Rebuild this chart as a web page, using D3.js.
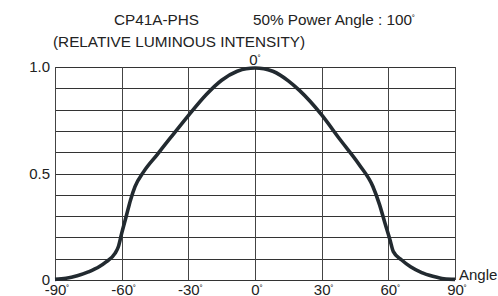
<!DOCTYPE html>
<html>
<head>
<meta charset="utf-8">
<script src="https://cdn.jsdelivr.net/npm/d3@7"></script>
<style>
  html, body { margin: 0; padding: 0; background: #fff; }
  svg { display: block; font-family: "Liberation Sans", Arial, sans-serif; }
</style>
</head>
<body>
<svg id="chart" width="498" height="296"></svg>
<script>
// relative luminous intensity vs angle
const angles = [-90, -85, -80, -75, -70, -67, -63, -61.5, -60, -58, -56, -54, -50, -44, -38, -30, -22, -15, -8, -4, 0,
  4, 8, 15, 20, 30, 38, 47, 53, 56, 58.5, 60.75, 62.25, 66, 70, 75, 80, 85, 90];
const intensity = [0.003, 0.008, 0.02, 0.038, 0.063, 0.085, 0.125, 0.156, 0.219, 0.297, 0.376, 0.438, 0.51, 0.589, 0.668, 0.772, 0.87, 0.938, 0.98, 0.992, 0.995,
  0.992, 0.98, 0.935, 0.89, 0.775, 0.663, 0.54, 0.44, 0.355, 0.266, 0.188, 0.133, 0.094, 0.062, 0.035, 0.018, 0.006, 0.003];
const xTicks = [-90, -60, -30, 0, 30, 60, 90];
const yTicks = [0, 0.5, 1.0];
const yGrid = d3.range(0, 11).map(i => i / 10);

const svg = d3.select('#chart');
const margin = { top: 67, left: 55 };
const plotW = 400, plotH = 213;

const x = d3.scaleLinear().domain([-90, 90]).range([0, plotW]);
const y = d3.scaleLinear().domain([0, 1]).range([plotH, 0]);

const g = svg.append('g').attr('transform', `translate(${margin.left},${margin.top})`);

// grid
g.selectAll('.hgrid').data(yGrid).enter().append('line')
  .attr('x1', 0).attr('x2', x(90))
  .attr('y1', d => Math.round(y(d)) + 0.5).attr('y2', d => Math.round(y(d)) + 0.5)
  .attr('stroke', '#333').attr('stroke-width', 1);
g.selectAll('.vgrid').data(xTicks).enter().append('line')
  .attr('x1', d => Math.round(x(d)) + 0.5).attr('x2', d => Math.round(x(d)) + 0.5)
  .attr('y1', y(1)).attr('y2', y(0))
  .attr('stroke', '#444').attr('stroke-width', 1);

// curve
const line = d3.line()
  .x((d, i) => x(angles[i]))
  .y(d => y(d))
  .curve(d3.curveMonotoneX);
g.append('path').datum(intensity)
  .attr('d', line)
  .attr('fill', 'none')
  .attr('stroke', '#222a30')
  .attr('stroke-width', 3.6)
  .attr('stroke-linejoin', 'round');

const fs = 15;

// y labels
g.selectAll('.ylab').data(yTicks).enter().append('text')
  .attr('x', -5).attr('y', d => y(d) + 5)
  .attr('text-anchor', 'end')
  .attr('font-size', fs).attr('fill', '#222')
  .text(d => d === 0 ? '0' : d.toFixed(1));

// x labels
const xl = g.selectAll('.xlab').data(xTicks).enter().append('text')
  .attr('x', d => x(d) + 2).attr('y', y(0) + 15)
  .attr('text-anchor', 'middle')
  .attr('font-size', fs).attr('fill', '#222');
xl.append('tspan').text(d => d);
xl.append('tspan').attr('font-size', 9).attr('dy', -3).text('˚');

// 0° label above the top
const top0 = g.append('text').attr('x', x(0)).attr('y', y(1) - 2)
  .attr('text-anchor', 'middle').attr('font-size', fs).attr('fill', '#222');
top0.append('tspan').text('0');
top0.append('tspan').attr('font-size', 9).attr('dy', -3).text('˚');

g.append('text').attr('x', x(90) + 4).attr('y', y(0))
  .attr('font-size', fs).attr('fill', '#222').text('Angle');

// titles
svg.append('text').attr('x', 114).attr('y', 25)
  .attr('font-size', 15.3).attr('fill', '#222').text('CP41A-PHS');
const pw = svg.append('text').attr('x', 253).attr('y', 25)
  .attr('font-size', 15.3).attr('fill', '#222');
pw.append('tspan').text('50% Power Angle : 100');
pw.append('tspan').attr('font-size', 9).attr('dy', -3).text('˚');
svg.append('text').attr('x', 53).attr('y', 47)
  .attr('font-size', 15.3).attr('fill', '#222').text('(RELATIVE LUMINOUS INTENSITY)');
</script>
</body>
</html>
